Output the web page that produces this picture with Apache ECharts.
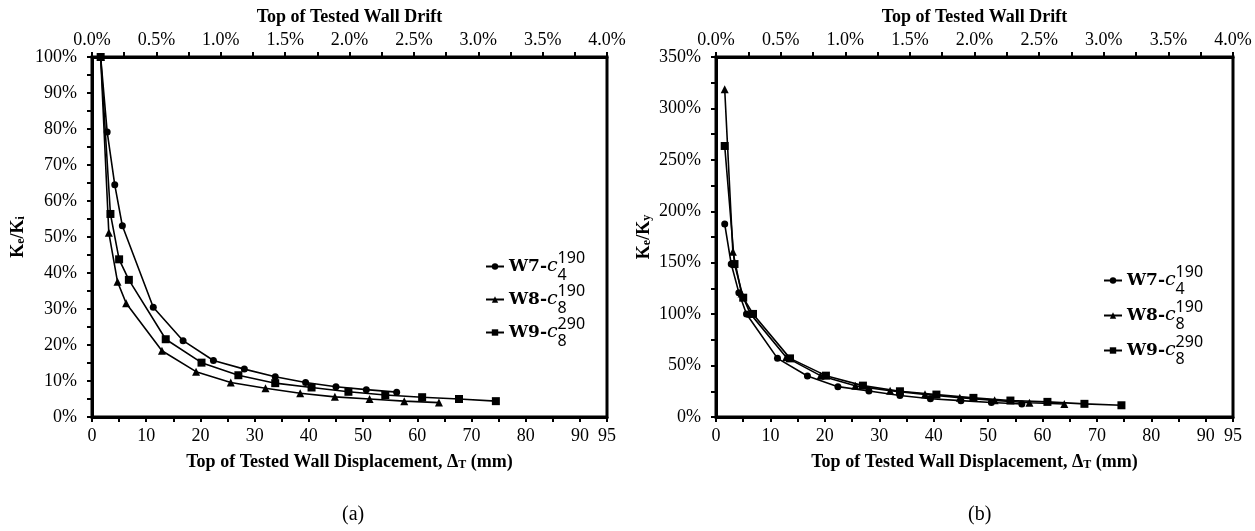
<!DOCTYPE html>
<html>
<head>
<meta charset="utf-8">
<script src="https://cdn.jsdelivr.net/npm/echarts@6/dist/echarts.min.js"></script>
<style>
  html, body { margin: 0; padding: 0; background: #fff; }
  #chart { width: 1255px; height: 531px; }
</style>
</head>
<body>
<div id="chart"></div>
<script>
// Top-of-wall displacement (mm) at each measured cycle
const dispW7 = [1.6, 2.8, 4.2, 5.6, 11.3, 16.8, 22.4, 28.1, 33.8, 39.4, 45.0, 50.6, 56.2];
const dispW8 = [1.6, 3.1, 4.7, 6.3, 12.9, 19.2, 25.6, 32.0, 38.4, 44.8, 51.2, 57.6, 64.0];
const dispW9 = [1.6, 3.4, 5.0, 6.8, 13.6, 20.2, 27.0, 33.8, 40.5, 47.3, 54.1, 60.9, 67.7, 74.5];

// Effective stiffness relative to initial stiffness, Ke/Ki (%)
const keKiW7 = [100, 79.2, 64.5, 53.1, 30.5, 21.2, 15.7, 13.3, 11.2, 9.6, 8.4, 7.6, 6.9];
const keKiW8 = [100, 51.2, 37.6, 31.6, 18.4, 12.6, 9.6, 8.0, 6.6, 5.6, 5.0, 4.4, 4.0];
const keKiW9 = [100, 56.4, 43.8, 38.1, 21.6, 15.1, 11.6, 9.4, 8.2, 7.0, 6.1, 5.5, 5.0, 4.4];

// Effective stiffness relative to yield stiffness, Ke/Ky (%)
const keKyW7 = [187.6, 148.7, 120.9, 100.1, 57.0, 39.9, 29.5, 25.3, 20.9, 17.8, 15.9, 14.1, 12.6];
const keKyW8 = [318.6, 160.7, 120.0, 100.5, 58.0, 40.2, 30.3, 25.6, 22.0, 18.8, 16.2, 13.9, 12.6];
const keKyW9 = [263.5, 148.7, 116.0, 100.2, 57.0, 40.2, 30.5, 25.0, 21.8, 18.6, 16.0, 14.7, 12.8, 11.4];

// Series names (rich-text legend labels) and their markers
const seriesNames = ['W7', 'W8', 'W9'];
const seriesLabels = {
  W7: '{w|W7-}{c|c}{sub|4}{sup|190}',
  W8: '{w|W8-}{c|c}{sub|8}{sup|190}',
  W9: '{w|W9-}{c|c}{sub|8}{sup|290}'
};
const seriesSymbols = { W7: 'circle', W8: 'triangle', W9: 'rect' };
const seriesSymbolSizes = { W7: 7, W8: 8, W9: 8 };

// Axis ranges and tick labels
const dispMax = 95, dispStep = 5;
const driftMax = 4, driftStep = 0.5;
const dispLabelValues = [0, 10, 20, 30, 40, 50, 60, 70, 80, 90, 95];

const serif = 'Liberation Serif';
const black = '#000';
const tickFont = 18;
const titleFont = 18;

function pairs(xs, ys) { return xs.map((x, i) => [x, ys[i]]); }

const subRich = {
  s: { fontFamily: serif, fontWeight: 'bold', fontSize: 12, verticalAlign: 'bottom', lineHeight: 14, padding: [9, 0, 0, 0] }
};

function bottomAxis(gridIndex) {
  return {
    type: 'value', gridIndex, position: 'bottom', min: 0, max: dispMax, interval: dispStep,
    name: 'Top of Tested Wall Displacement, Δ{s|T} (mm)',
    nameLocation: 'middle', nameGap: 29,
    nameTextStyle: { fontFamily: serif, fontWeight: 'bold', fontSize: titleFont, color: black, rich: subRich },
    axisLine: { onZero: false, lineStyle: { color: black, width: 3 } },
    axisTick: { length: 5, lineStyle: { color: black, width: 2 } },
    axisLabel: {
      fontFamily: serif, fontSize: tickFont, color: black, margin: 10, showMaxLabel: true,
      formatter: v => (dispLabelValues.indexOf(v) >= 0 ? String(v) : '')
    },
    splitLine: { show: false }
  };
}

function topAxis(gridIndex) {
  return {
    type: 'value', gridIndex, position: 'top', min: 0, max: driftMax, interval: driftStep,
    name: 'Top of Tested Wall Drift',
    nameLocation: 'middle', nameGap: 30,
    nameTextStyle: { fontFamily: serif, fontWeight: 'bold', fontSize: titleFont, color: black },
    axisLine: { onZero: false, lineStyle: { color: black, width: 3 } },
    axisTick: { length: 5, lineStyle: { color: black, width: 2 } },
    minorTick: { show: true, splitNumber: 2, length: 5, lineStyle: { color: black, width: 2 } },
    axisLabel: { fontFamily: serif, fontSize: tickFont, color: black, margin: 8, formatter: v => v.toFixed(1) + '%' },
    splitLine: { show: false }
  };
}

function leftAxis(gridIndex, max, interval, nameText, gap) {
  return {
    type: 'value', gridIndex, min: 0, max, interval,
    name: nameText, nameLocation: 'middle', nameRotate: 90, nameGap: gap,
    nameTextStyle: { fontFamily: serif, fontWeight: 'bold', fontSize: titleFont, color: black, rich: subRich },
    axisLine: { onZero: false, lineStyle: { color: black, width: 3 } },
    axisTick: { length: 5, lineStyle: { color: black, width: 2 } },
    minorTick: { show: true, splitNumber: 2, length: 5, lineStyle: { color: black, width: 2 } },
    axisLabel: { fontFamily: serif, fontSize: tickFont, color: black, margin: 15, formatter: v => v + '%' },
    splitLine: { show: false }
  };
}

function lineSeries(name, xIdx, yIdx, xs, ys) {
  return {
    type: 'line', name, xAxisIndex: xIdx, yAxisIndex: yIdx,
    data: pairs(xs, ys),
    symbol: seriesSymbols[name], symbolSize: seriesSymbolSizes[name],
    showAllSymbol: true,
    lineStyle: { color: black, width: 1.6 },
    itemStyle: { color: black },
    emphasis: { disabled: true },
    animation: false
  };
}

const legendRich = {
  w: { fontFamily: 'DejaVu Serif', fontWeight: 'bold', fontSize: 17, color: black, lineHeight: 33 },
  c: { fontFamily: 'DejaVu Serif', fontStyle: 'italic', fontSize: 19, color: black, lineHeight: 33 },
  sub: { fontFamily: 'Noto Sans', fontSize: 16, color: black, width: 0, verticalAlign: 'bottom', lineHeight: 19 },
  sup: { fontFamily: 'Noto Sans', fontSize: 16, color: black, verticalAlign: 'top', lineHeight: 19 }
};

function legendAt(left, top, gap) {
  return {
    orient: 'vertical', left, top, itemGap: gap, itemWidth: 18, itemHeight: 8,
    data: seriesNames,
    formatter: n => seriesLabels[n],
    textStyle: { rich: legendRich, padding: [0, 0, 0, 0] },
    selectedMode: false
  };
}

const chart = echarts.init(document.getElementById('chart'), null, { renderer: 'canvas' });

chart.setOption({
  backgroundColor: '#fff',
  animation: false,
  grid: [
    { left: 92, right: 648, top: 57, bottom: 114, show: true, borderColor: black, borderWidth: 3 },
    { left: 716, right: 22, top: 57, bottom: 114, show: true, borderColor: black, borderWidth: 3 }
  ],
  xAxis: [bottomAxis(0), topAxis(0), bottomAxis(1), topAxis(1)],
  yAxis: [
    leftAxis(0, 100, 10, 'K{s|e}/K{s|i}', 65),
    leftAxis(1, 350, 50, 'K{s|e}/K{s|y}', 63)
  ],
  legend: [legendAt(480, 245, 0), legendAt(1098, 259, 2)],
  title: [
    { text: '(a)', left: 337, top: 500, textStyle: { fontFamily: serif, fontWeight: 'normal', fontSize: 20, color: black } },
    { text: '(b)', left: 963, top: 500, textStyle: { fontFamily: serif, fontWeight: 'normal', fontSize: 20, color: black } }
  ],
  series: [
    lineSeries('W7', 0, 0, dispW7, keKiW7),
    lineSeries('W8', 0, 0, dispW8, keKiW8),
    lineSeries('W9', 0, 0, dispW9, keKiW9),
    lineSeries('W7', 2, 1, dispW7, keKyW7),
    lineSeries('W8', 2, 1, dispW8, keKyW8),
    lineSeries('W9', 2, 1, dispW9, keKyW9)
  ]
});
</script>
</body>
</html>
